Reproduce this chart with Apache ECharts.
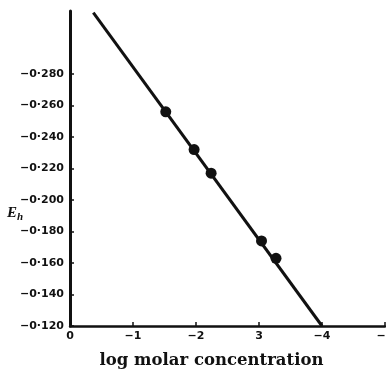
<!DOCTYPE html>
<html>
<head>
<meta charset="utf-8">
<script src="https://cdn.jsdelivr.net/npm/echarts@6/dist/echarts.min.js"></script>
<style>
  html, body { margin: 0; padding: 0; background: #fff; }
  #chart { width: 386px; height: 370px; }
</style>
</head>
<body>
<div id="chart"></div>
<script>
// measured points (log molar concentration, Eh)
const logConc = [-1.52, -1.97, -2.24, -3.04, -3.27];
const ehValues = [-0.256, -0.232, -0.217, -0.174, -0.163];

// fitted straight line, end points as drawn
const fitX = [-0.37, -4.0];
const fitY = [-0.319, -0.120];

const xTicks = [0, -1, -2, -3, -4, -5];
const xTickLabels = ['0', '\u22121', '\u22122', '3', '\u22124', '\u22125'];
const yTicks = [-0.280, -0.260, -0.240, -0.220, -0.200, -0.180, -0.160, -0.140, -0.120];

const ink = '#111';

const chart = echarts.init(document.getElementById('chart'));

function yLabel(v) {
  return '\u2212' + Math.abs(v).toFixed(3).replace('.', '\u00b7');
}

chart.setOption({
  animation: false,
  backgroundColor: '#fff',
  grid: { left: 70, right: 1, top: 11, bottom: 44, containLabel: false, outerBoundsMode: 'none' },
  xAxis: {
    type: 'value',
    min: -5,
    max: 0,
    interval: 1,
    inverse: true,
    axisLine: { lineStyle: { color: ink, width: 2.5 } },
    axisTick: { inside: true, length: 4, lineStyle: { color: ink, width: 1.5 } },
    splitLine: { show: false },
    axisLabel: {
      color: ink,
      fontFamily: 'DejaVu Sans',
      fontWeight: 'bold',
      fontSize: 11,
      margin: 5,
      hideOverlap: false,
      showMaxLabel: true,
      showMinLabel: true,
      formatter: v => xTickLabels[xTicks.indexOf(Math.round(v))] ?? ''
    },
    name: 'log molar concentration',
    nameLocation: 'middle',
    nameGap: 26,
    nameTextStyle: {
      color: ink,
      fontFamily: 'DejaVu Serif',
      fontWeight: 'bold',
      fontSize: 16.5,
      padding: [0, 32, 0, 0]
    }
  },
  yAxis: {
    type: 'value',
    min: -0.32,
    max: -0.12,
    inverse: true,
    axisLine: { lineStyle: { color: ink, width: 3 } },
    axisTick: { inside: true, length: 4, lineStyle: { color: ink, width: 1.5 }, customValues: yTicks },
    splitLine: { show: false },
    axisLabel: {
      color: ink,
      fontFamily: 'DejaVu Sans',
      fontWeight: 'bold',
      fontSize: 11,
      margin: 6,
      customValues: yTicks,
      formatter: yLabel
    }
  },
  graphic: [{
    type: 'text',
    left: 7,
    top: 206,
    style: {
      text: '{e|E}{h|h}',
      rich: {
        e: { fontFamily: 'Liberation Serif', fontStyle: 'italic', fontWeight: 'bold', fontSize: 15, fill: ink },
        h: { fontFamily: 'Liberation Serif', fontStyle: 'italic', fontWeight: 'bold', fontSize: 11, fill: ink, padding: [8, 0, 0, 0] }
      }
    }
  }],
  series: [
    {
      type: 'line',
      data: fitX.map((x, i) => [x, fitY[i]]),
      symbol: 'none',
      lineStyle: { color: ink, width: 3 },
      z: 2
    },
    {
      type: 'scatter',
      data: logConc.map((x, i) => [x, ehValues[i]]),
      symbol: 'circle',
      symbolSize: 11,
      itemStyle: { color: ink, opacity: 1 },
      z: 3
    }
  ]
});
</script>
</body>
</html>
